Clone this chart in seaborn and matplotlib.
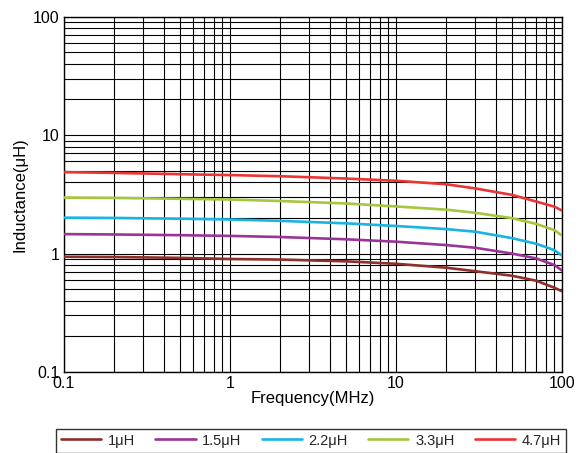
import numpy as np
import pandas as pd
import matplotlib
matplotlib.use("Agg")
import matplotlib.pyplot as plt
import seaborn as sns

# Frequency sample points (MHz)
freq = [0.1, 0.2, 0.5, 1, 2, 5, 10, 20, 30, 50, 70, 90, 100]

# Inductance (uH) per rated value
ind_1u0 = [0.94, 0.935, 0.92, 0.90, 0.89, 0.86, 0.82, 0.76, 0.71, 0.65, 0.59, 0.515, 0.48]
ind_1u5 = [1.46, 1.45, 1.43, 1.41, 1.38, 1.32, 1.26, 1.18, 1.12, 1.00, 0.91, 0.80, 0.72]
ind_2u2 = [2.01, 2.00, 1.97, 1.94, 1.89, 1.80, 1.71, 1.61, 1.53, 1.35, 1.21, 1.07, 0.96]
ind_3u3 = [2.97, 2.95, 2.90, 2.86, 2.78, 2.65, 2.50, 2.35, 2.21, 1.99, 1.78, 1.58, 1.42]
ind_4u7 = [4.87, 4.80, 4.68, 4.60, 4.50, 4.30, 4.12, 3.85, 3.55, 3.13, 2.75, 2.49, 2.31]

series_names = ["1μH", "1.5μH", "2.2μH", "3.3μH", "4.7μH"]
series_vals = [ind_1u0, ind_1u5, ind_2u2, ind_3u3, ind_4u7]
colors = ["#8e2f2a", "#9a3597", "#19b4e2", "#a6c63b", "#ec3434"]

x_ticks = [0.1, 1, 10, 100]
x_ticklabels = ["0.1", "1", "10", "100"]
y_ticks = [0.1, 1, 10, 100]
y_ticklabels = ["0.1", "1", "10", "100"]

df = pd.DataFrame({
    "freq": np.tile(freq, len(series_names)),
    "L": np.concatenate(series_vals),
    "part": np.repeat(series_names, len(freq)),
})

sns.set_theme(style="white")
plt.rcParams["font.family"] = ["Liberation Sans", "DejaVu Sans"]

fig = plt.figure(figsize=(5.79, 4.53), dpi=100)
ax = fig.add_axes([0.1105, 0.1788, 0.8601, 0.7843])

sns.lineplot(data=df, x="freq", y="L", hue="part", hue_order=series_names,
             palette=colors, linewidth=1.9, ax=ax, legend=False, zorder=3)

ax.set_xscale("log")
ax.set_yscale("log")
ax.set_xlim(0.1, 100)
ax.set_ylim(0.1, 100)

ax.grid(True, which="both", color="black", linewidth=0.8, zorder=1)
ax.set_axisbelow(True)
ax.tick_params(which="both", length=0, labelsize=11.5, colors="black", pad=3)
ax.set_xticks(x_ticks)
ax.set_xticklabels(x_ticklabels)
ax.set_yticks(y_ticks)
ax.set_yticklabels(y_ticklabels)
for s in ax.spines.values():
    s.set_color("black")
    s.set_linewidth(1.0)

ax.set_xlabel("Frequency(MHz)", fontsize=12, color="black", labelpad=0)
ax.set_ylabel("Inductance(μH)", fontsize=12, color="black", labelpad=4)

handles = ax.get_lines()[:len(series_names)]
leg = fig.legend(handles, series_names, loc="upper left",
                 bbox_to_anchor=(56 / 579, 1 - 428.5 / 453, 510 / 579, 0),
                 mode="expand", ncol=5, fontsize=10.5, frameon=True,
                 fancybox=False, edgecolor="black", handlelength=2.75,
                 handletextpad=0.45, borderpad=0.35, borderaxespad=0)
leg.get_frame().set_linewidth(1.0)
for h in leg.get_lines():
    h.set_linewidth(1.9)

fig.savefig("out.png", dpi=100)
